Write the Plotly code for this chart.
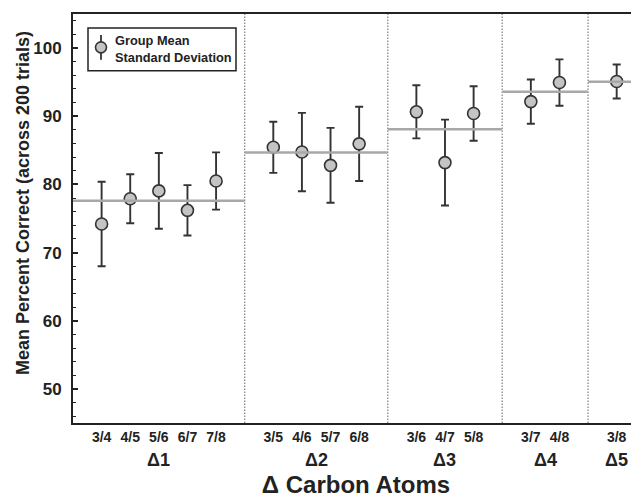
import plotly.graph_objects as go

# ---- data ----
pair_labels = ["3/4", "4/5", "5/6", "6/7", "7/8",
               "3/5", "4/6", "5/7", "6/8",
               "3/6", "4/7", "5/8",
               "3/7", "4/8",
               "3/8"]
group_names = ["Δ1", "Δ2", "Δ3", "Δ4", "Δ5"]
group_sizes = [5, 4, 3, 2, 1]
pair_means = [74.2, 77.9, 79.05, 76.2, 80.5,
              85.45, 84.75, 82.8, 85.95,
              90.65, 83.2, 90.4,
              92.15, 94.95,
              95.1]
pair_sds = [6.2, 3.6, 5.55, 3.7, 4.2,
            3.75, 5.75, 5.5, 5.45,
            3.9, 6.3, 4.0,
            3.25, 3.4,
            2.5]
group_means = [77.6, 84.7, 88.1, 93.6, 95.05]
y_ticks = [50, 60, 70, 80, 90, 100]

# ---- layout helpers derived from the group structure ----
X_MAX = 19.78
positions, seps, centers = [], [], []
p = 1
for i, n in enumerate(group_sizes):
    grp = list(range(p, p + n))
    positions += grp
    centers.append((grp[0] + grp[-1]) / 2)
    p += n
    if i < len(group_sizes) - 1:
        seps.append(p)
        p += 1
bounds = [0] + seps + [X_MAX]

TXT = "#222222"
FONT = "Arial, Liberation Sans, sans-serif"
OFF = 8  # page body margin

fig = go.Figure()

# separators (dotted)
sx, sy = [], []
for s in seps:
    sx += [s, s, None]
    sy += [45, 105, None]
fig.add_trace(go.Scatter(x=sx, y=sy, mode="lines", yaxis="y2",
                         line=dict(color="#8a8a8a", width=1.3, dash="1.5px,1.5px"),
                         hoverinfo="skip", showlegend=False))

# group mean lines
gx, gy = [], []
for i, m in enumerate(group_means):
    gx += [bounds[i], bounds[i + 1], None]
    gy += [m, m, None]
fig.add_trace(go.Scatter(x=gx, y=gy, mode="lines", yaxis="y2",
                         line=dict(color="#a8a8a8", width=2.5),
                         hoverinfo="skip", showlegend=False))

# pair means with SD
fig.add_trace(go.Scatter(
    x=positions, y=pair_means, mode="markers",
    marker=dict(size=12, color="#c4c4c4", line=dict(color="#333333", width=1.6)),
    error_y=dict(type="data", array=pair_sds, visible=True,
                 color="#333333", thickness=1.9, width=4),
    showlegend=False))

# group labels
for name, c in zip(group_names, centers):
    fig.add_annotation(x=c, y=0, xref="x", yref="paper", text=name,
                       showarrow=False, yanchor="middle", yshift=-37,
                       font=dict(size=18, family=FONT, color=TXT, weight="bold"))

# manual legend (pixel positions on the page -> paper fractions)
def px2x(px):
    return (px - 73) / (639 - 73)

def py2y(py):
    return (425 - py) / (425 - 14)

fig.add_shape(type="rect", xref="paper", yref="paper",
              x0=px2x(88), x1=px2x(236), y0=py2y(71), y1=py2y(28),
              line=dict(color="#222222", width=1.5), fillcolor="white")
fig.add_shape(type="line", xref="paper", yref="paper",
              x0=px2x(101), x1=px2x(101), y0=py2y(60), y1=py2y(35),
              line=dict(color="#333333", width=1.8))
fig.add_shape(type="circle", xref="paper", yref="paper",
              xsizemode="pixel", ysizemode="pixel",
              xanchor=px2x(101), yanchor=py2y(47.5),
              x0=-5.5, x1=5.5, y0=-5.5, y1=5.5,
              line=dict(color="#333333", width=1.6), fillcolor="#c4c4c4")
fig.add_annotation(xref="paper", yref="paper", x=px2x(113), y=py2y(49.5),
                   xanchor="left", yanchor="middle", align="left",
                   text="Group Mean<br>Standard Deviation", showarrow=False,
                   font=dict(size=12.8, family=FONT, color=TXT, weight="bold"))

# y-axis title as a rotated annotation
fig.add_annotation(xref="paper", yref="paper", x=px2x(23), y=py2y(204),
                   xanchor="center", yanchor="middle", textangle=-90,
                   text="Mean Percent Correct (across 200 trials)", showarrow=False,
                   font=dict(size=18, family=FONT, color=TXT, weight="bold"))

fig.update_layout(
    width=639 - OFF, height=498 - OFF,
    margin=dict(l=73 - OFF, r=0, t=14 - OFF, b=73),
    paper_bgcolor="white", plot_bgcolor="white",
    font=dict(family=FONT, color=TXT),
    xaxis=dict(range=[0, X_MAX], tickvals=positions, ticktext=pair_labels,
               showline=True, linecolor=TXT, linewidth=2, mirror=True,
               ticks="", showgrid=False, zeroline=False,
               tickfont=dict(size=14, family=FONT, color=TXT, weight="bold"),
               title=dict(text="Δ Carbon Atoms", standoff=36,
                          font=dict(size=24, family=FONT, color=TXT, weight="bold"))),
    yaxis=dict(range=[45, 105], tickvals=y_ticks,
               showline=True, linecolor=TXT, linewidth=2,
               ticks="inside", ticklen=5, tickwidth=1.5, tickcolor=TXT,
               minor=dict(ticks="inside", dtick=2, ticklen=3, tickwidth=1.2, tickcolor=TXT),
               showgrid=False, zeroline=False, ticklabelstandoff=6,
               tickfont=dict(size=17, family=FONT, color=TXT, weight="bold")),
    yaxis2=dict(range=[45, 105], overlaying="y", side="right", tickvals=y_ticks,
                showline=False, ticks="inside", ticklen=4, tickwidth=1.2,
                tickcolor="#999999", showticklabels=False, showgrid=False,
                zeroline=False),
)

fig.write_html("out.html")
